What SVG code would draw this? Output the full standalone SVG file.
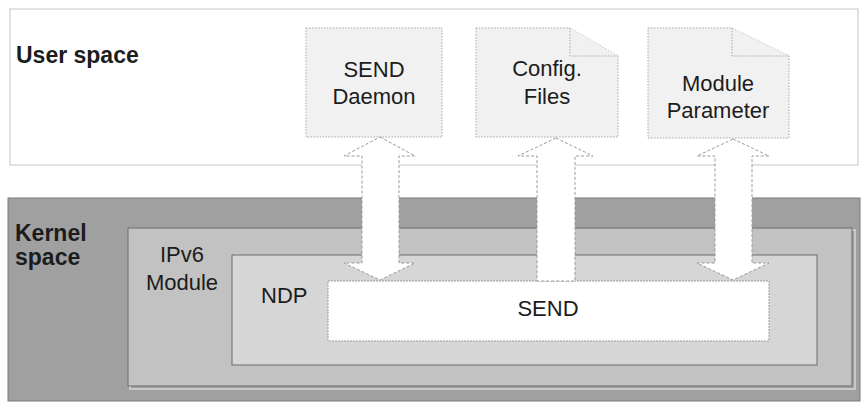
<svg xmlns="http://www.w3.org/2000/svg" width="862" height="403" viewBox="0 0 862 403">
  <style>
    .lbl { font-family: "Liberation Sans", Arial, sans-serif; font-size: 22px; fill: #1c1c1c; }
    .bold { font-weight: bold; font-size: 23px; }
    .doc { fill: #f1f1f1; stroke: #a8a8a8; stroke-width: 1; stroke-dasharray: 1.5 1.5; }
    .arrow { fill: #ffffff; stroke: #9a9a9a; stroke-width: 1; stroke-dasharray: 3 2; }
  </style>
  <rect width="862" height="403" fill="#ffffff"/>

  <!-- User space layer -->
  <g id="user-space">
    <rect x="10" y="9" width="848" height="156" fill="#ffffff" stroke="#cfcfcf" stroke-width="1.2"/>
    <text class="lbl bold" x="16" y="63">User space</text>
  </g>

  <!-- Kernel space layer -->
  <g id="kernel-space">
    <rect x="8" y="198" width="852" height="203" fill="#a0a0a0" stroke="#7a7a7a" stroke-width="1"/>
    <text class="lbl bold" x="15" y="241">Kernel</text>
    <text class="lbl bold" x="15" y="265">space</text>
  </g>

  <g id="ipv6-module">
    <rect x="130" y="230" width="725" height="159" fill="none" stroke="#d6d6d6" stroke-width="1.5"/>
    <rect x="128" y="228" width="724" height="158" fill="#c2c2c2" stroke="#6c6c6c" stroke-width="1"/>
    <text class="lbl" x="182" y="262" text-anchor="middle">IPv6</text>
    <text class="lbl" x="182" y="290" text-anchor="middle">Module</text>
  </g>

  <g id="ndp">
    <rect x="232" y="255" width="585" height="110" fill="#d6d6d6" stroke="#6c6c6c" stroke-width="1"/>
    <text class="lbl" x="261" y="303">NDP</text>
  </g>

  <g id="send">
    <rect x="328" y="281" width="441" height="60" fill="#ffffff" stroke="#9c9c9c" stroke-width="1" stroke-dasharray="2 1"/>
    <text class="lbl" x="548" y="316" text-anchor="middle">SEND</text>
  </g>

  <!-- User space components -->
  <g id="send-daemon">
    <rect class="doc" x="306" y="28" width="136" height="109"/>
    <text class="lbl" x="374" y="77" text-anchor="middle">SEND</text>
    <text class="lbl" x="374" y="104" text-anchor="middle">Daemon</text>
  </g>

  <g id="config-files">
    <path class="doc" d="M476,28 H570 L618,56 V137 H476 Z"/>
    <path class="doc" d="M570,28 V56 H618" fill="none"/>
    <text class="lbl" x="547" y="76" text-anchor="middle">Config.</text>
    <text class="lbl" x="547" y="104" text-anchor="middle">Files</text>
  </g>

  <g id="module-parameter">
    <path class="doc" d="M648,28 H732 L789,56 V138 H648 Z"/>
    <path class="doc" d="M732,28 V56 H789" fill="none"/>
    <text class="lbl" x="718" y="91" text-anchor="middle">Module</text>
    <text class="lbl" x="718" y="118" text-anchor="middle">Parameter</text>
  </g>

  <!-- Connectors: block arrows between user space and kernel -->
  <g id="connectors">
    <path class="arrow" d="M380,137 L415,156 L399,156 L399,263 L415,263 L380,280 L344,263 L362,263 L362,156 L344,156 Z"/>
    <path class="arrow" d="M556,138 L593,156 L575,156 L575,281 L537,281 L537,156 L518,156 Z"/>
    <path class="arrow" d="M733,139 L769,156 L752,156 L752,263 L769,263 L733,280 L697,263 L715,263 L715,156 L697,156 Z"/>
  </g>
</svg>
